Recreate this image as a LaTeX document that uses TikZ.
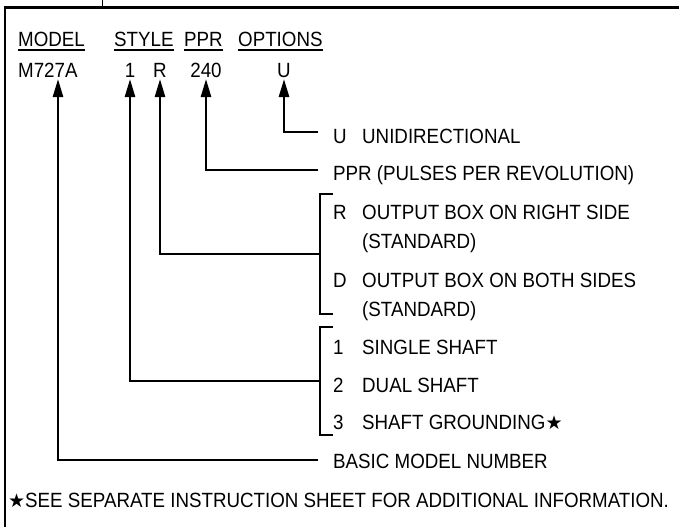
\documentclass[tikz,border=0pt]{standalone}
\usepackage{fontspec}
\setmainfont{Liberation Sans}[FakeStretch=0.91]
\newfontfamily\symfont{DejaVu Sans}
\usetikzlibrary{arrows.meta}
\begin{document}
\begin{tikzpicture}[x=1pt,y=-1pt,
  txt/.style={anchor=base west, inner sep=0pt, font=\fontsize{20.6}{22}\selectfont},
  ctr/.style={anchor=base, inner sep=0pt, font=\fontsize{20.6}{22}\selectfont},
  conn/.style={line width=2.6pt, line join=miter},
  arr/.style={conn, -{Triangle[length=18pt,width=10pt]}},
  uline/.style={line width=1.4pt},
  frame/.style={line width=2.8pt, line join=miter},
]
\useasboundingbox (0,0) rectangle (679,527);
% frame
\draw[frame] (679,7.5) -- (5,7.5) -- (5,527);
\draw[line width=1pt] (102,0) -- (102,7);
% headers
\node[txt] (hmodel) at (18,46) {MODEL};
\node[txt] (hstyle) at (114,46) {STYLE};
\node[txt] (hppr) at (184,46) {PPR};
\node[txt] (hopt) at (238,46) {OPTIONS};
\foreach \h in {hmodel,hstyle,hppr,hopt}
  \draw[uline] ([yshift=-4pt]\h.base west) -- ([yshift=-4pt]\h.base east);
% values
\node[txt] (m727a) at (18,77) {M727A};
\node[ctr] (s1) at (130,77) {1};
\node[ctr] (sR) at (160,77) {R};
\node[ctr] (p240) at (206,77) {240};
\node[ctr] (oU) at (284,77) {U};
% arrow tips
\coordinate (tM) at (58,79);
\coordinate (t1) at (130,79);
\coordinate (tR) at (160,79);
\coordinate (tP) at (206,79);
\coordinate (tU) at (284,79);
% labels
\node[txt] (lU) at (333,143) {\makebox[29pt][l]{U}UNIDIRECTIONAL};
\node[txt] (lPPR) at (333,180) {PPR (PULSES PER REVOLUTION)};
\node[txt] (lR) at (333,219) {\makebox[29pt][l]{R}OUTPUT BOX ON RIGHT SIDE};
\node[txt] (lRs) at (362,248) {(STANDARD)};
\node[txt] (lD) at (333,287) {\makebox[29pt][l]{D}OUTPUT BOX ON BOTH SIDES};
\node[txt] (lDs) at (362,316) {(STANDARD)};
\node[txt] (l1) at (333,354) {\makebox[29pt][l]{1}SINGLE SHAFT};
\node[txt] (l2) at (333,392) {\makebox[29pt][l]{2}DUAL SHAFT};
\node[txt] (l3) at (333,429) {\makebox[29pt][l]{3}SHAFT GROUNDING{\symfont\fontsize{19}{20}\selectfont ★}};
\node[txt] (lB) at (333,468) {BASIC MODEL NUMBER};
\node[txt] (foot) at (8,507) {{\symfont\fontsize{19}{20}\selectfont ★}SEE SEPARATE INSTRUCTION SHEET FOR ADDITIONAL INFORMATION.};
% connector ends
\coordinate (eU) at (318,132);
\coordinate (eP) at (318,170);
\coordinate (eB) at (318,460);
\coordinate (bRtop) at (333,194);
\coordinate (bRbot) at (333,314);
\coordinate (bR) at (320,254);
\coordinate (bStop) at (333,327);
\coordinate (bSbot) at (333,435);
\coordinate (bS) at (320,381);
% brackets
\draw[conn] (bRtop) -- (320,194) -- (320,314) -- (bRbot);
\draw[conn] (bStop) -- (320,327) -- (320,435) -- (bSbot);
% connectors
\draw[arr] (eU) -| (tU);
\draw[arr] (eP) -| (tP);
\draw[arr] (bR) -| (tR);
\draw[arr] (bS) -| (t1);
\draw[arr] (eB) -| (tM);
\end{tikzpicture}
\end{document}
